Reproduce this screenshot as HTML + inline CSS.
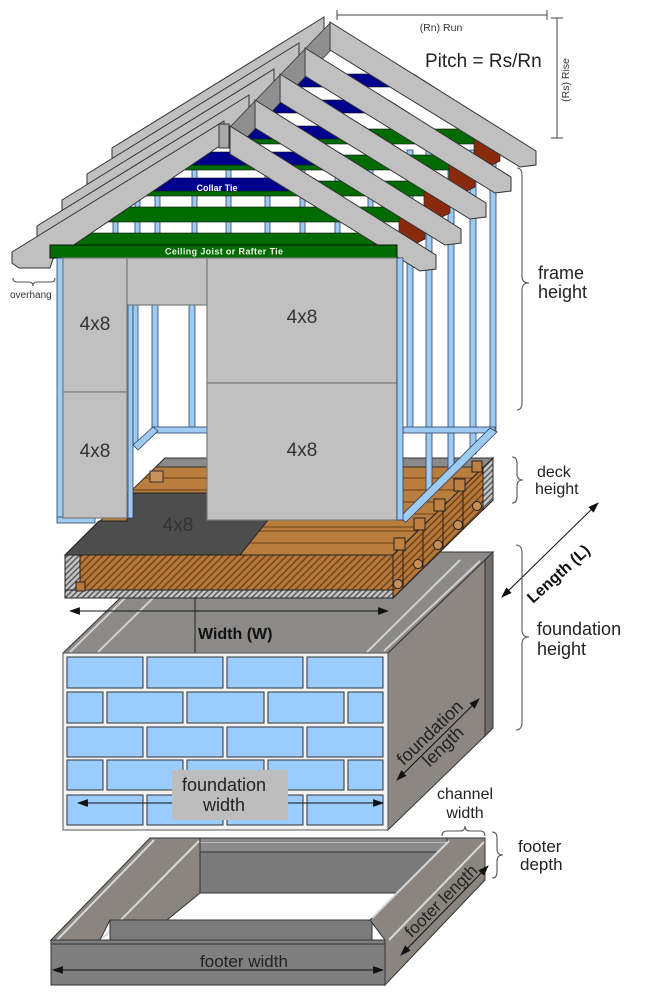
<!DOCTYPE html>
<html><head><meta charset="utf-8"><title>Shed framing diagram</title>
<style>
html,body{margin:0;padding:0;background:#fff}
svg{display:block}
text{font-family:"Liberation Sans",Arial,sans-serif}
.s{fill:#9ecbf2;stroke:#2d3f63;stroke-width:.8}
.br{fill:#99ccff;stroke:#333;stroke-width:1}
.bc{fill:none;stroke:#555;stroke-width:1.1}
.rg{fill:#8f8f8f;stroke:#333;stroke-width:.8}
</style></head><body>
<svg xmlns="http://www.w3.org/2000/svg" width="655" height="1002" viewBox="0 0 655 1002">
<defs>
<pattern id="hb" width="5" height="5" patternUnits="userSpaceOnUse" patternTransform="rotate(45)">
<rect width="5" height="5" fill="#b5783a"/><rect width="1.4" height="5" fill="#6e4118"/></pattern>
<pattern id="hg" width="4" height="4" patternUnits="userSpaceOnUse" patternTransform="rotate(45)">
<rect width="4" height="4" fill="#c4c4c4"/><rect width="1.4" height="4" fill="#555"/></pattern>
<marker id="ah" viewBox="0 0 10 10" refX="9" refY="5" markerWidth="11" markerHeight="11" markerUnits="userSpaceOnUse" orient="auto-start-reverse"><path d="M0,1.5 L10,5 L0,8.5 z" fill="#111"/></marker>
<clipPath id="tri"><polygon points="0,0 -212,131 212,134"/></clipPath>
<clipPath id="deckc"><polygon points="65,555 165,458 493,458 393,555"/></clipPath>
<g id="truss">
 <g clip-path="url(#tri)">
  <rect x="-215" y="57" width="430" height="13" fill="#00008f" stroke="#111" stroke-width=".6"/>
  <rect x="-215" y="112" width="430" height="15" fill="#006b00" stroke="#111" stroke-width=".6"/>
 </g>
 <polygon points="150,121 176,137 176,144 166,149 150,141" fill="#8a2a0c" stroke="#222" stroke-width=".7"/>
 <polygon points="0,0 -212,131 -212,142 -205,147 -174,147 -171,138 0,22" fill="#c0c0c0" stroke="#333" stroke-width="1"/>
 <polygon points="6,5 212,134 212,148 196,150 6,33" fill="#c0c0c0" stroke="#333" stroke-width="1"/>
</g>
</defs>
<rect width="655" height="1002" fill="#fff"/>

<!-- ============ FOOTER ============ -->
<g stroke="#333" stroke-width="1">
<rect x="150" y="838" width="335" height="14" fill="#8a8a8a"/>
<line x1="152" y1="842.5" x2="485" y2="842.5" stroke="#b8b8b8"/>
<rect x="187" y="852" width="262" height="41" fill="#7a7a7a"/>
<polygon points="51,940 150,838 200,838 200,893 167,920 110,920 100,940" fill="#8b8580"/>
<line x1="57" y1="940" x2="154" y2="840" stroke="#d8d8d8" stroke-width="2"/>
<line x1="103" y1="938" x2="199" y2="841" stroke="#d8d8d8" stroke-width="2"/>
<rect x="110" y="920" width="262" height="20" fill="#7b7b7b"/>
<polygon points="370,920 447,843 447,838 485,838 485,880 385,985 385,940" fill="#8b8580"/>
<line x1="372" y1="918" x2="449" y2="841" stroke="#d8d8d8" stroke-width="2"/>
<line x1="389" y1="940" x2="484" y2="842" stroke="#d8d8d8" stroke-width="2"/>
<rect x="51" y="940" width="334" height="45" fill="#7f7f7f"/>
<line x1="51" y1="944" x2="385" y2="944"/>
</g>
<line x1="53" y1="970" x2="383" y2="970" stroke="#111" marker-start="url(#ah)" marker-end="url(#ah)"/>
<text x="244" y="967" font-size="17" text-anchor="middle" fill="#222">footer width</text>
<line x1="401" y1="955" x2="488" y2="866" stroke="#111" marker-start="url(#ah)" marker-end="url(#ah)"/>
<text transform="translate(445,905) rotate(-45)" font-size="17" text-anchor="middle" fill="#222">footer length</text>

<!-- ============ FOUNDATION ============ -->
<g stroke="#333" stroke-width="1">
<polygon points="63,653 168,552 493,552 485,560 388,653" fill="#8b8a88"/>
<line x1="70" y1="652" x2="125" y2="598" stroke="#d0d0d0" stroke-width="2"/>
<line x1="98" y1="652" x2="153" y2="598" stroke="#d0d0d0" stroke-width="2"/>
<line x1="367" y1="652" x2="460" y2="560" stroke="#d0d0d0" stroke-width="2"/>
<line x1="384" y1="651" x2="480" y2="561" stroke="#d0d0d0" stroke-width="2"/>
<line x1="195" y1="598" x2="195" y2="653" stroke="#222"/>
<polygon points="388,653 485,560 485,736 388,830" fill="#8c8782"/>
<polygon points="485,560 493,552 493,728 485,736" fill="#6e6e6e"/>
<rect x="63" y="653" width="325" height="177" fill="#f2f2f2" stroke="#555"/>
</g>
<g>
<rect class="br" x="67" y="657" width="76" height="31"/><rect class="br" x="147" y="657" width="76" height="31"/><rect class="br" x="227" y="657" width="76" height="31"/><rect class="br" x="307" y="657" width="76" height="31"/>
<rect class="br" x="67" y="692" width="36" height="31"/><rect class="br" x="107" y="692" width="76" height="31"/><rect class="br" x="187" y="692" width="77" height="31"/><rect class="br" x="268" y="692" width="76" height="31"/><rect class="br" x="348" y="692" width="35" height="31"/>
<rect class="br" x="67" y="727" width="76" height="30"/><rect class="br" x="147" y="727" width="76" height="30"/><rect class="br" x="227" y="727" width="76" height="30"/><rect class="br" x="307" y="727" width="76" height="30"/>
<rect class="br" x="67" y="760" width="36" height="30"/><rect class="br" x="107" y="760" width="76" height="30"/><rect class="br" x="187" y="760" width="77" height="30"/><rect class="br" x="268" y="760" width="76" height="30"/><rect class="br" x="348" y="760" width="35" height="30"/>
<rect class="br" x="67" y="795" width="76" height="30"/><rect class="br" x="147" y="795" width="76" height="30"/><rect class="br" x="227" y="795" width="76" height="30"/><rect class="br" x="307" y="795" width="76" height="30"/>
</g>
<line x1="78" y1="803" x2="383" y2="803" stroke="#111" marker-start="url(#ah)" marker-end="url(#ah)"/>
<rect x="172" y="770" width="116" height="50" fill="#bdbdbd"/>
<text x="224" y="791" font-size="18" text-anchor="middle" fill="#222">foundation</text>
<text x="224" y="811" font-size="18" text-anchor="middle" fill="#222">width</text>
<line x1="397" y1="780" x2="479" y2="699" stroke="#111" marker-start="url(#ah)" marker-end="url(#ah)"/>
<text transform="translate(434,737) rotate(-44)" font-size="18" text-anchor="middle" fill="#222"><tspan x="0" y="0">foundation</tspan><tspan x="0" y="19">length</tspan></text>

<!-- ============ DECK ============ -->
<polygon points="65,555 165,458 493,458 393,555" fill="#b97d3e" stroke="#333"/>
<g clip-path="url(#deckc)" stroke="#6a3f16" stroke-width="1">
<line x1="60" y1="478" x2="500" y2="478"/><line x1="60" y1="490" x2="500" y2="490"/><line x1="60" y1="502" x2="500" y2="502"/><line x1="60" y1="514" x2="500" y2="514"/><line x1="60" y1="527" x2="500" y2="527"/><line x1="60" y1="531" x2="500" y2="531"/><line x1="60" y1="543" x2="500" y2="543"/>
</g>
<polygon points="165,458 493,458 485,467 156,467" fill="#8a8a8a" stroke="#333"/>
<polygon points="65,555 99,521 127,521 127,493 207,493 207,520 268,520 240,555" fill="#4d4d4d" stroke="#222"/>
<rect x="150" y="471" width="13" height="11" fill="#c8925a" stroke="#333"/>
<text x="178" y="531" font-size="19" text-anchor="middle" fill="#333">4x8</text>
<rect x="65" y="555" width="328" height="43" fill="url(#hb)" stroke="#222"/>
<rect x="65" y="555" width="15" height="43" fill="url(#hg)" stroke="#222"/>
<rect x="65" y="590" width="328" height="8" fill="url(#hg)" stroke="#222"/>
<rect x="76" y="582" width="9" height="9" fill="#b8783a" stroke="#222"/>
<polygon points="393,555 493,458 493,500 393,598" fill="url(#hb)" stroke="#222"/>
<polygon points="483,468 493,458 493,500 483,510" fill="url(#hg)" stroke="#222"/>
<g stroke="#222" stroke-width="1">
<line x1="403" y1="545" x2="403" y2="588"/><line x1="423" y1="526" x2="423" y2="569"/><line x1="443" y1="507" x2="443" y2="550"/><line x1="463" y1="487" x2="463" y2="530"/>
<rect x="394" y="538" width="11" height="12" fill="#c08040"/><rect x="414" y="518" width="11" height="12" fill="#c08040"/><rect x="434" y="499" width="11" height="12" fill="#c08040"/><rect x="454" y="479" width="11" height="12" fill="#c08040"/><rect x="472" y="461" width="10" height="11" fill="#c08040"/>
<circle cx="398" cy="584" r="4.5" fill="#c89058"/><circle cx="418" cy="564" r="4.5" fill="#c89058"/><circle cx="438" cy="545" r="4.5" fill="#c89058"/><circle cx="458" cy="525" r="4.5" fill="#c89058"/><circle cx="477" cy="506" r="4.5" fill="#c89058"/>
</g>
<line x1="70" y1="611" x2="388" y2="611" stroke="#111" marker-start="url(#ah)" marker-end="url(#ah)"/>
<text x="198" y="639" font-size="16" font-weight="bold" fill="#111">Width (W)</text>

<!-- ============ STUDS (behind) ============ -->
<g>
<rect class="s" x="113" y="160" width="5" height="95"/><rect class="s" x="135" y="160" width="5" height="95"/><rect class="s" x="155" y="160" width="5" height="95"/><rect class="s" x="192" y="160" width="5" height="95"/><rect class="s" x="226" y="160" width="5" height="95"/><rect class="s" x="265" y="160" width="5" height="95"/><rect class="s" x="300" y="160" width="5" height="95"/><rect class="s" x="335" y="160" width="5" height="95"/><rect class="s" x="368" y="160" width="5" height="95"/>
<rect class="s" x="407" y="150" width="6" height="280"/>
<rect class="s" x="426" y="150" width="6" height="346"/>
<rect class="s" x="448" y="150" width="6" height="325"/>
<rect class="s" x="470" y="150" width="6" height="304"/>
<rect class="s" x="490" y="150" width="6" height="282"/>
<rect class="s" x="403" y="427" width="92" height="6"/>
<polygon class="s" points="490,428 497,432 406,522 399,518"/>
<rect class="s" x="128" y="305" width="5" height="213"/>
<rect class="s" x="133" y="305" width="5" height="140"/>
<rect class="s" x="152" y="305" width="6" height="125"/>
<rect class="s" x="189" y="305" width="6" height="125"/>
<rect class="s" x="152" y="427" width="55" height="6"/>
<polygon class="s" points="133,445 153,427 158,431 138,450"/>
</g>

<!-- ============ ROOF ============ -->
<use href="#truss" x="324" y="17"/>
<polygon class="rg" points="330,23 305,49 305,77 330,51"/>
<use href="#truss" x="299" y="43"/>
<polygon class="rg" points="305,49 280,75 280,103 305,77"/>
<use href="#truss" x="274" y="69"/>
<polygon class="rg" points="280,75 255,101 255,129 280,103"/>
<use href="#truss" x="249" y="95"/>
<polygon class="rg" points="255,101 230,127 230,155 255,129"/>
<use href="#truss" x="224" y="121"/>
<rect x="219" y="124" width="10" height="24" fill="#a9a9a9" stroke="#333"/>
<text x="217" y="191" font-size="9" font-weight="bold" text-anchor="middle" fill="#fff" textLength="41">Collar Tie</text>

<!-- ============ FRONT WALL ============ -->
<rect x="50" y="245" width="347" height="13" fill="#006b00" stroke="#111"/>
<text x="224" y="254.5" font-size="9" font-weight="bold" text-anchor="middle" fill="#eef5e8" textLength="118">Ceiling Joist or Rafter Tie</text>
<rect class="s" x="57" y="258" width="6" height="260"/>
<rect class="s" x="57" y="517" width="38" height="6"/>
<g fill="#c0c0c0" stroke="#7a7a7a" stroke-width="1.2">
<rect x="63" y="258" width="64" height="134"/>
<rect x="63" y="392" width="64" height="126"/>
<rect x="127" y="258" width="80" height="47"/>
<rect x="207" y="258" width="190" height="125"/>
<rect x="207" y="383" width="190" height="137"/>
</g>
<rect class="s" x="397" y="258" width="6" height="262"/>
<g font-size="19" text-anchor="middle" fill="#333">
<text x="95" y="330">4x8</text><text x="95" y="457">4x8</text>
<text x="302" y="323">4x8</text><text x="302" y="456">4x8</text>
</g>

<!-- ============ ANNOTATIONS ============ -->
<g stroke="#444" stroke-width="1">
<line x1="337" y1="15" x2="547" y2="15"/><line x1="337" y1="10" x2="337" y2="20"/><line x1="547" y1="10" x2="547" y2="20"/>
<line x1="557" y1="18" x2="557" y2="138"/><line x1="551" y1="18" x2="563" y2="18"/><line x1="551" y1="138" x2="563" y2="138"/>
</g>
<text x="441" y="31" font-size="10.5" text-anchor="middle" fill="#333">(Rn) Run</text>
<text transform="translate(569,80) rotate(-90)" font-size="10.5" text-anchor="middle" fill="#333">(Rs) Rise</text>
<text x="425" y="67" font-size="19" fill="#222">Pitch = Rs/Rn</text>

<path class="bc" d="M517,168 Q522,168 522,176 L522,276 Q522,283 529,283 Q522,283 522,290 L522,402 Q522,410 517,410"/>
<text x="538" y="279" font-size="18" fill="#222">frame</text>
<text x="538" y="298" font-size="18" fill="#222">height</text>

<path class="bc" d="M512,457 Q517,457 517,463 L517,474 Q517,480 523,480 Q517,480 517,486 L517,497 Q517,503 512,503"/>
<text x="537" y="477" font-size="16" fill="#222">deck</text>
<text x="535" y="494" font-size="16" fill="#222">height</text>

<line x1="502" y1="597" x2="598" y2="503" stroke="#111" marker-start="url(#ah)" marker-end="url(#ah)"/>
<text transform="translate(533,604) rotate(-42)" font-size="16" font-weight="bold" fill="#111">Length (L)</text>

<path class="bc" d="M516,545 Q522,545 522,553 L522,630 Q522,637 529,637 Q522,637 522,644 L522,722 Q522,730 516,730"/>
<text x="537" y="635" font-size="18" fill="#222">foundation</text>
<text x="537" y="655" font-size="18" fill="#222">height</text>

<text x="465" y="799" font-size="16" text-anchor="middle" fill="#222">channel</text>
<text x="465" y="818" font-size="16" text-anchor="middle" fill="#222">width</text>
<path class="bc" d="M442,836 Q442,831 447,831 L460,831 Q465,831 465,826 Q465,831 470,831 L480,831 Q485,831 485,836"/>

<path class="bc" d="M492,832 Q497,832 497,838 L497,849 Q497,855 503,855 Q497,855 497,861 L497,872 Q497,878 492,878"/>
<text x="518" y="852" font-size="17" fill="#222">footer</text>
<text x="520" y="870" font-size="17" fill="#222">depth</text>

<path class="bc" d="M13,278 Q13,282 17,282 L29,282 Q33,282 33,286 Q33,282 37,282 L51,282 Q55,282 55,278"/>
<text x="10" y="298" font-size="10" fill="#333">overhang</text>
</svg>
</body></html>
